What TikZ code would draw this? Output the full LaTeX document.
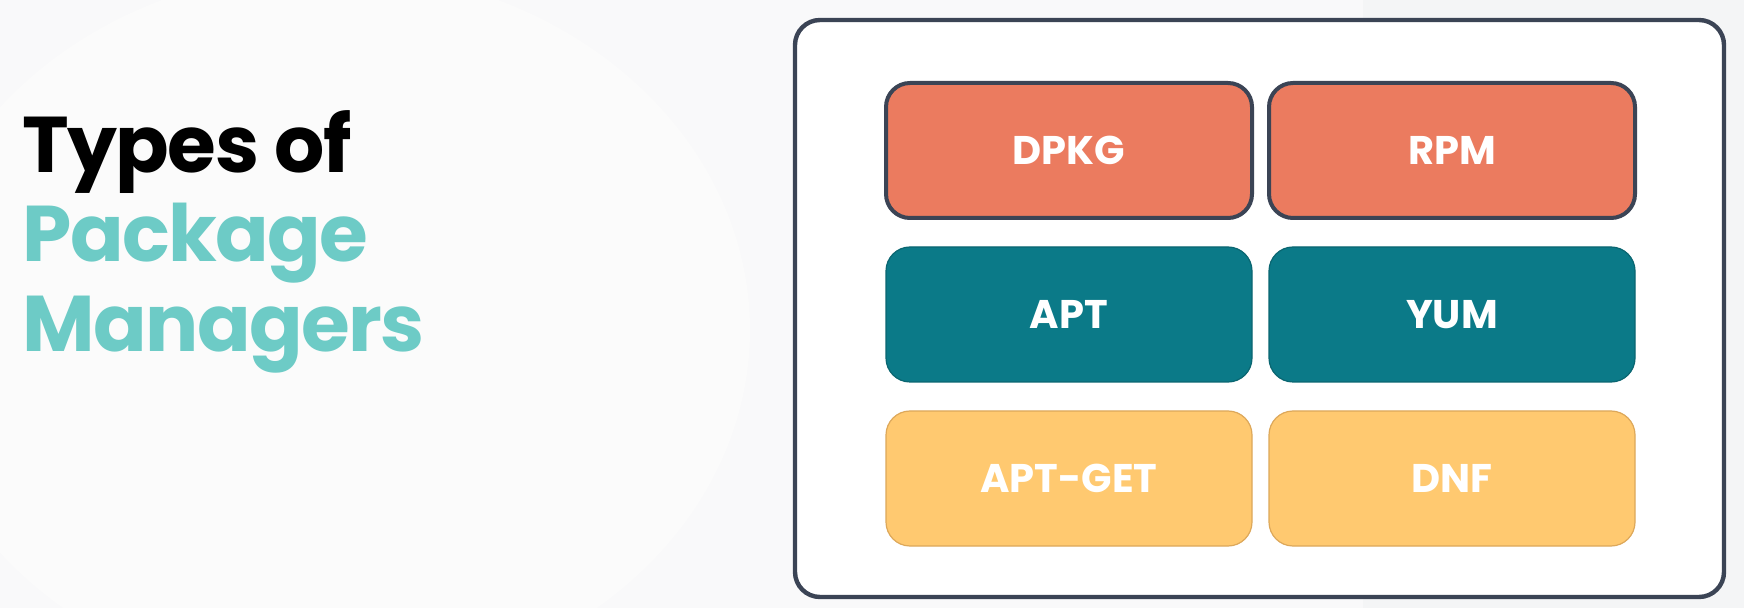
\documentclass[tikz,border=0pt]{standalone}
\usepackage{fontspec}
\setmainfont{Poppins}
\usepackage{xcolor}
\usepackage{tikz}
\usetikzlibrary{positioning}
\usetikzlibrary{backgrounds}

\definecolor{pagegray}{HTML}{F9F9FA}
\definecolor{cornergray}{HTML}{F4F5F6}
\definecolor{slate}{HTML}{3B4455}
\definecolor{coral}{HTML}{EB7B5F}
\definecolor{petrol}{HTML}{0B7A88}
\definecolor{petrolline}{HTML}{0A6671}
\definecolor{sand}{HTML}{FFC970}
\definecolor{sandline}{HTML}{DDA85A}
\definecolor{mint}{HTML}{6DCBC6}

\begin{document}
\begin{tikzpicture}[x=0.5pt, y=-0.5pt, node distance=82pt, every text node part/.style={align=center},
  pkgbox/.style={rounded corners=12pt, minimum width=183pt, minimum height=67.5pt, text=white,
    font=\fontsize{20}{24}\selectfont\bfseries},
  lowlevel/.style={pkgbox, fill=coral, draw=slate, line width=2pt},
  highlevel/.style={pkgbox, fill=petrol, draw=petrolline, line width=0.6pt},
  newlevel/.style={pkgbox, fill=sand, draw=sandline, line width=0.6pt},
  heading/.style={anchor=base west, inner sep=0pt,
    font=\fontsize{39.5}{47}\selectfont\bfseries\addfontfeature{LetterSpace=-2}}]

\useasboundingbox (0,0) rectangle (1744,608);
\fill [pagegray] (0,0) rectangle (1744,608);
\fill [cornergray] (1363,0) rectangle (1744,608);
\fill [white!30!pagegray] (330,330) ellipse (420 and 360);

\node (types) [heading, text=black] at (22,173) {Types of};
\node (package) [heading, text=mint] at (22,262) {Package};
\node (managers) [heading, text=mint] at (22,352) {Managers};

\draw [slate, line width=2.2pt, fill=white, rounded corners=12.5pt] (795,20) rectangle (1724,597);

\node (dpkg) [lowlevel] at (1069,150.5) {DPKG};
\node (rpm) [lowlevel, node distance=191.5pt, right of=dpkg] {RPM};
\node (apt) [highlevel, below of=dpkg] {APT};
\node (yum) [highlevel, below of=rpm] {YUM};
\node (aptget) [newlevel, below of=apt] {APT-GET};
\node (dnf) [newlevel, below of=yum] {DNF};

\end{tikzpicture}
\end{document}
